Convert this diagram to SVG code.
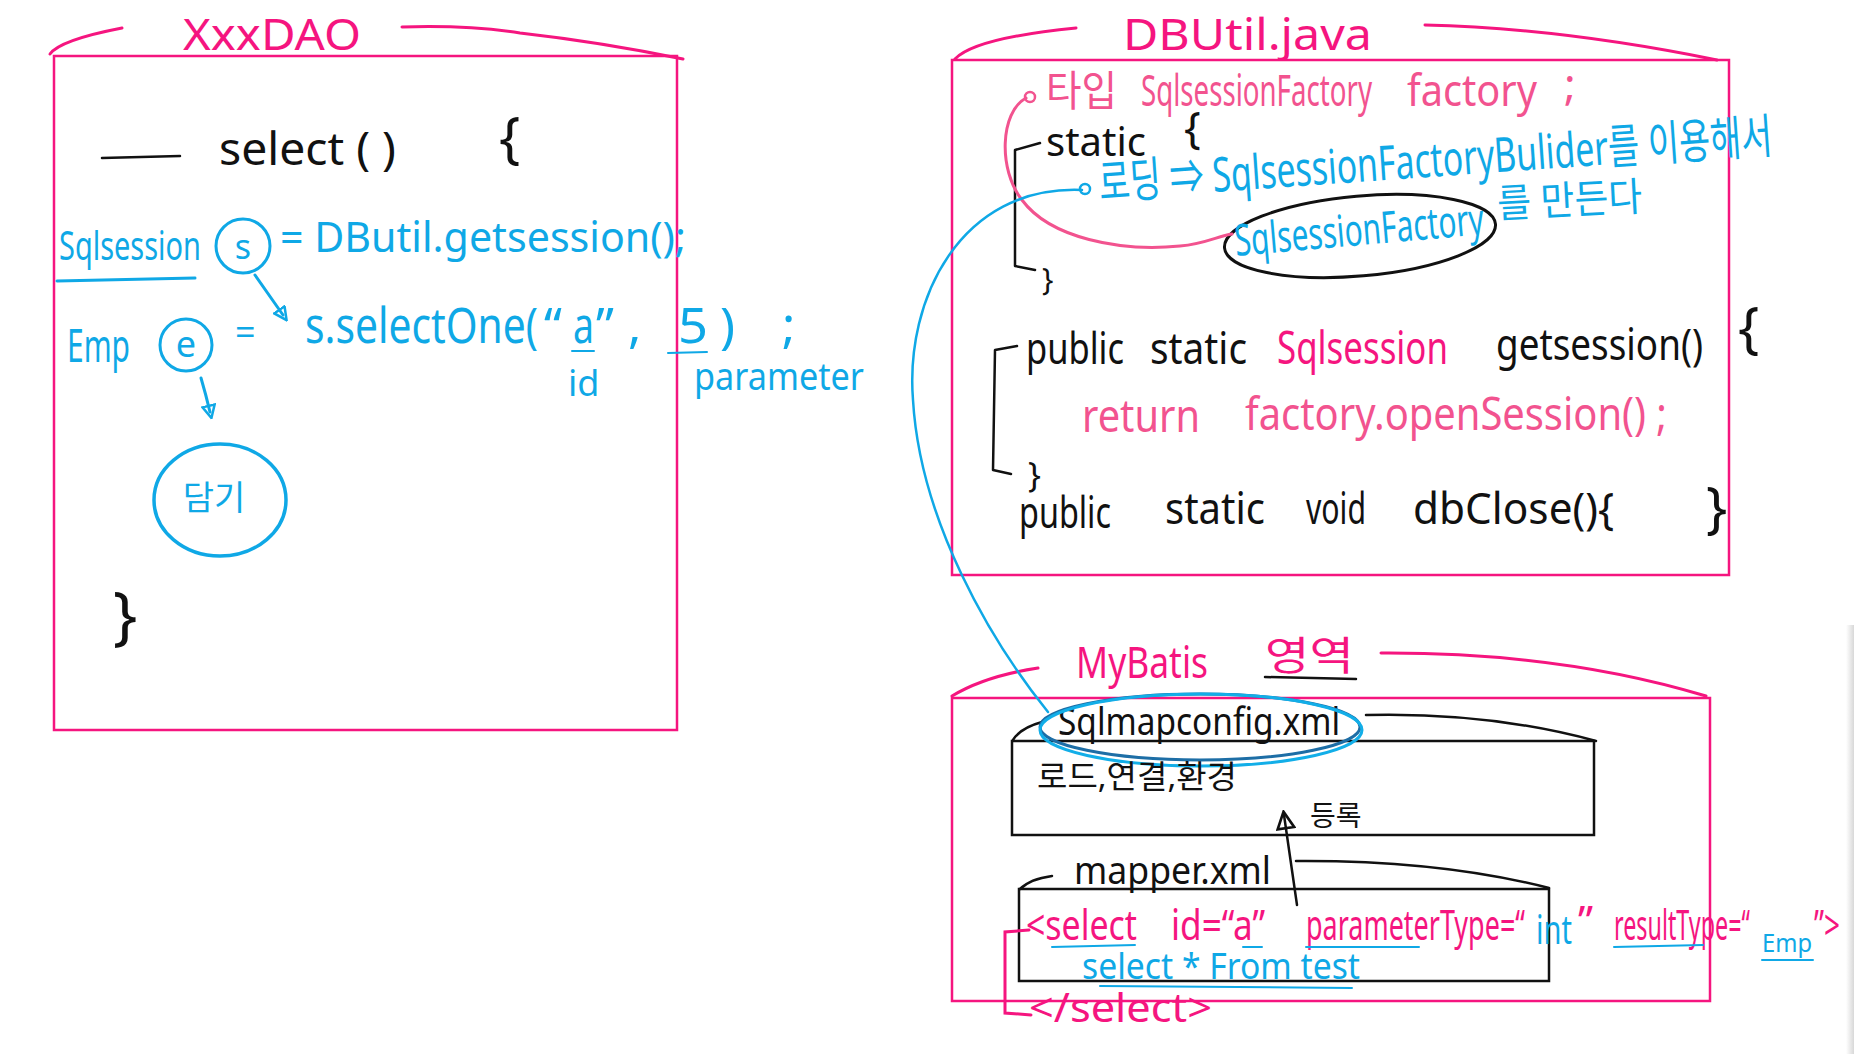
<svg xmlns="http://www.w3.org/2000/svg" width="1854" height="1054" viewBox="0 0 1854 1054">
<defs>
<style>
text{font-family:"Noto Sans","Noto Sans CJK KR",sans-serif;}
.pk{fill:#f5157f;}
.lpk{fill:#f2538f;}
.bl{fill:#0fa8e6;}
.bk{fill:#111;}
.box{fill:none;stroke:#f5157f;stroke-width:2.5;}
.pkl{fill:none;stroke:#f5157f;stroke-width:3;stroke-linecap:round;}
.bkl{fill:none;stroke:#111;stroke-width:2.5;stroke-linecap:round;stroke-linejoin:round;}
.bll{fill:none;stroke:#0fa8e6;stroke-width:3;stroke-linecap:round;stroke-linejoin:round;}
.blt{fill:none;stroke:#0fa8e6;stroke-width:2;stroke-linecap:round;}
</style>
<marker id="ab" viewBox="0 0 12 12" refX="6" refY="6" markerWidth="5" markerHeight="5" orient="auto"><path d="M1,1 L11,6 L1,11 Z" fill="none" stroke="#0fa8e6" stroke-width="2"/></marker>
<marker id="ak" viewBox="0 0 12 12" refX="9" refY="6" markerWidth="8" markerHeight="8" orient="auto"><path d="M1,1 L11,6 L1,11 Z" fill="none" stroke="#111" stroke-width="1.6"/></marker>
<linearGradient id="sh" x1="0" x2="1" y1="0" y2="0"><stop offset="0" stop-color="#fff"/><stop offset="1" stop-color="#d8d8d8"/></linearGradient>
</defs>
<rect width="1854" height="1054" fill="#fff"/>
<rect x="1846" y="625" width="8" height="429" fill="url(#sh)"/>

<g id="dao">
<rect class="box" x="54" y="56" width="623" height="674"/>
<path class="pkl" d="M50 54 Q60 40 122 28"/>
<path class="pkl" d="M402 27 Q470 25 520 33 Q600 42 683 59"/>
<text class="pk" x="183" y="50" font-size="44" textLength="178" lengthAdjust="spacingAndGlyphs">XxxDAO</text>
<path class="bkl" d="M102 158 L180 156"/>
<text class="bk" x="219" y="165" font-size="46" textLength="177" lengthAdjust="spacingAndGlyphs">select ( )</text>
<text class="bk" x="499" y="158" font-size="56">{</text>
<text class="bl" x="59" y="260" font-size="40" textLength="142" lengthAdjust="spacingAndGlyphs">Sqlsession</text>
<path class="bll" d="M57 281 L195 278"/>
<text class="bl" x="280" y="252" font-size="42" textLength="406" lengthAdjust="spacingAndGlyphs">= DButil.getsession();</text>
<text class="bl" x="67" y="362" font-size="46" textLength="63" lengthAdjust="spacingAndGlyphs">Emp</text>
<text class="bl" x="235" y="345" font-size="36">=</text>
<text class="bl" x="305" y="343" font-size="50" textLength="233" lengthAdjust="spacingAndGlyphs">s.selectOne(</text>
<text class="bl" x="544" y="343" font-size="50">“</text>
<text class="bl" x="573" y="343" font-size="50" textLength="21" lengthAdjust="spacingAndGlyphs">a</text>
<text class="bl" x="596" y="343" font-size="50">”</text>
<text class="bl" x="628" y="343" font-size="50">,</text>
<text class="bl" x="678" y="343" font-size="50" textLength="30" lengthAdjust="spacingAndGlyphs">5</text>
<text class="bl" x="720" y="343" font-size="50">)</text>
<text class="bl" x="782" y="343" font-size="50">;</text>
<path class="blt" d="M572 351 L594 351 M668 353 L707 352"/>
<text class="bl" x="568" y="396" font-size="36">id</text>
<text class="bl" x="694" y="390" font-size="38" textLength="170" lengthAdjust="spacingAndGlyphs">parameter</text>
<text class="bk" x="113" y="638" font-size="64">}</text>
</g>

<g id="var-s">
<circle cx="243" cy="246" r="27" fill="none" stroke="#0fa8e6" stroke-width="3"/>
<text class="bl" x="243" y="259" font-size="34" text-anchor="middle">s</text>
</g>
<g id="var-e">
<circle cx="186" cy="345" r="26" fill="none" stroke="#0fa8e6" stroke-width="3"/>
<text class="bl" x="186" y="357" font-size="36" text-anchor="middle">e</text>
</g>
<g id="dam">
<ellipse cx="220" cy="500" rx="66" ry="56" fill="none" stroke="#0fa8e6" stroke-width="3.5"/>
<text class="bl" x="214" y="510" font-size="34" text-anchor="middle">담기</text>
</g>

<g id="dbutil">
<rect class="box" x="952" y="60" width="777" height="515"/>
<path class="pkl" d="M955 59 Q975 38 1076 28"/>
<path class="pkl" d="M1425 25 Q1560 28 1717 60"/>
<text class="pk" x="1123" y="50" font-size="44" textLength="249" lengthAdjust="spacingAndGlyphs">DBUtil.java</text>
<circle cx="1030" cy="97" r="5" fill="none" stroke="#f2538f" stroke-width="2.5"/>
<text class="lpk" x="1046" y="106" font-size="42" textLength="71" lengthAdjust="spacingAndGlyphs">타입</text>
<text class="lpk" x="1141" y="106" font-size="44" textLength="231" lengthAdjust="spacingAndGlyphs">SqlsessionFactory</text>
<text class="lpk" x="1407" y="106" font-size="44" textLength="130" lengthAdjust="spacingAndGlyphs">factory</text>
<text class="lpk" x="1564" y="100" font-size="44">;</text>
<text class="bk" x="1046" y="156" font-size="40" textLength="100" lengthAdjust="spacingAndGlyphs">static</text>
<text class="bk" x="1184" y="143" font-size="44">{</text>
<path class="bkl" d="M1040 143 L1015 150 L1015 266 L1035 270"/>
<text class="bk" x="1042" y="290" font-size="30">}</text>
<circle cx="1085" cy="189" r="5" fill="none" stroke="#0fa8e6" stroke-width="2.5"/>
<text class="bl" x="1100" y="200" font-size="48" textLength="675" lengthAdjust="spacingAndGlyphs" transform="rotate(-4 1100 200)">로딩 ⇒ SqlsessionFactoryBulider를 이용해서</text>
<text class="bl" x="1498" y="218" font-size="40" textLength="145" lengthAdjust="spacingAndGlyphs" transform="rotate(-3 1498 218)">를 만든다</text>
<path class="bkl" d="M1017 346 L995 350 L993 470 L1011 474"/>
<text class="bk" x="1028" y="487" font-size="34">}</text>
<text class="bk" x="1026" y="364" font-size="44" textLength="98" lengthAdjust="spacingAndGlyphs">public</text>
<text class="bk" x="1150" y="364" font-size="44" textLength="97" lengthAdjust="spacingAndGlyphs">static</text>
<text class="pk" x="1277" y="364" font-size="46" textLength="171" lengthAdjust="spacingAndGlyphs">Sqlsession</text>
<text class="bk" x="1496" y="360" font-size="44" textLength="207" lengthAdjust="spacingAndGlyphs">getsession()</text>
<text class="bk" x="1738" y="348" font-size="56">{</text>
<text class="lpk" x="1082" y="432" font-size="46" textLength="118" lengthAdjust="spacingAndGlyphs">return</text>
<text class="lpk" x="1245" y="430" font-size="46" textLength="422" lengthAdjust="spacingAndGlyphs">factory.openSession() ;</text>
<text class="bk" x="1019" y="528" font-size="44" textLength="92" lengthAdjust="spacingAndGlyphs">public</text>
<text class="bk" x="1165" y="524" font-size="44" textLength="100" lengthAdjust="spacingAndGlyphs">static</text>
<text class="bk" x="1306" y="524" font-size="44" textLength="60" lengthAdjust="spacingAndGlyphs">void</text>
<text class="bk" x="1413" y="524" font-size="44" textLength="201" lengthAdjust="spacingAndGlyphs">dbClose(){</text>
<text class="bk" x="1706" y="528" font-size="56">}</text>
</g>

<g id="factory">
<ellipse cx="1360" cy="236" rx="136" ry="40" fill="none" stroke="#111" stroke-width="3" transform="rotate(-5 1360 236)"/>
<text class="bl" x="1236" y="256" font-size="44" textLength="250" lengthAdjust="spacingAndGlyphs" transform="rotate(-5 1236 256)">SqlsessionFactory</text>
</g>

<g id="mybatis">
<rect class="box" x="952" y="698" width="758" height="303"/>
<path class="pkl" d="M952 696 Q985 676 1038 668"/>
<path class="pkl" d="M1381 653 Q1560 652 1706 696"/>
<text class="pk" x="1076" y="678" font-size="44" textLength="132" lengthAdjust="spacingAndGlyphs">MyBatis</text>
<text class="pk" x="1265" y="670" font-size="40" textLength="89" lengthAdjust="spacingAndGlyphs">영역</text>
<path class="bkl" d="M1265 677 L1356 679"/>
</g>

<g id="sqlmapconfig">
<rect x="1012" y="741" width="582" height="94" fill="none" stroke="#111" stroke-width="2.5"/>
<path class="bkl" d="M1013 740 Q1020 728 1042 722"/>
<path class="bkl" d="M1366 715 Q1490 712 1596 741"/>
<text class="bk" x="1058" y="735" font-size="38" textLength="282" lengthAdjust="spacingAndGlyphs">Sqlmapconfig.xml</text>
<ellipse cx="1200" cy="727" rx="160" ry="33" fill="none" stroke="#1d6ea6" stroke-width="3"/>
<ellipse cx="1201" cy="730" rx="161" ry="36" fill="none" stroke="#12aee8" stroke-width="3"/>
<text class="bk" x="1037" y="788" font-size="32" textLength="200" lengthAdjust="spacingAndGlyphs">로드,연결,환경</text>
<text class="bk" x="1310" y="826" font-size="28">등록</text>
</g>

<g id="mapper">
<rect x="1019" y="889" width="530" height="92" fill="none" stroke="#111" stroke-width="2.5"/>
<path class="bkl" d="M1020 889 Q1030 879 1052 876"/>
<path class="bkl" d="M1296 861 Q1440 860 1549 888"/>
<text class="bk" x="1074" y="884" font-size="38" textLength="197" lengthAdjust="spacingAndGlyphs">mapper.xml</text>
<text class="pk" x="1026" y="940" font-size="42" textLength="111" lengthAdjust="spacingAndGlyphs">&lt;select</text>
<text class="pk" x="1171" y="940" font-size="42" textLength="94" lengthAdjust="spacingAndGlyphs">id=“a”</text>
<text class="pk" x="1306" y="940" font-size="42" textLength="219" lengthAdjust="spacingAndGlyphs">parameterType=“</text>
<text class="bl" x="1536" y="944" font-size="40" textLength="36" lengthAdjust="spacingAndGlyphs">int</text>
<text class="pk" x="1578" y="936" font-size="42">”</text>
<text class="pk" x="1614" y="940" font-size="42" textLength="136" lengthAdjust="spacingAndGlyphs">resultType=“</text>
<text class="bl" x="1762" y="952" font-size="26" textLength="50" lengthAdjust="spacingAndGlyphs">Emp</text>
<text class="pk" x="1814" y="940" font-size="42" textLength="26" lengthAdjust="spacingAndGlyphs">”&gt;</text>
<path class="blt" d="M1052 947 L1135 945 M1243 947 L1262 947 M1306 947 L1419 947 M1614 947 L1703 945 M1762 960 L1813 960"/>
<text class="bl" x="1082" y="979" font-size="36" textLength="278" lengthAdjust="spacingAndGlyphs">select * From test</text>
<path class="blt" d="M1100 986 L1352 988"/>
<path class="pkl" d="M1029 930 L1005 932 L1005 1013 L1031 1015"/>
<text class="pk" x="1029" y="1022" font-size="40" textLength="183" lengthAdjust="spacingAndGlyphs">&lt;/select&gt;</text>
</g>

<g id="connectors">
<path class="bll" d="M255 275 L283 315" marker-end="url(#ab)"/>
<path class="bll" d="M201 378 Q206 395 210 412" marker-end="url(#ab)"/>
<path fill="none" stroke="#f2538f" stroke-width="3" stroke-linecap="round" d="M1026 98 C1000 112 998 170 1022 200 C1050 238 1120 252 1180 246 C1205 244 1218 236 1232 234"/>
<path fill="none" stroke="#0fa8e6" stroke-width="2.5" stroke-linecap="round" d="M1082 190 C960 185 905 300 913 400 C920 520 990 640 1048 712"/>
<path class="bkl" d="M1297 905 L1284 815" marker-end="url(#ak)"/>
</g>
</svg>
